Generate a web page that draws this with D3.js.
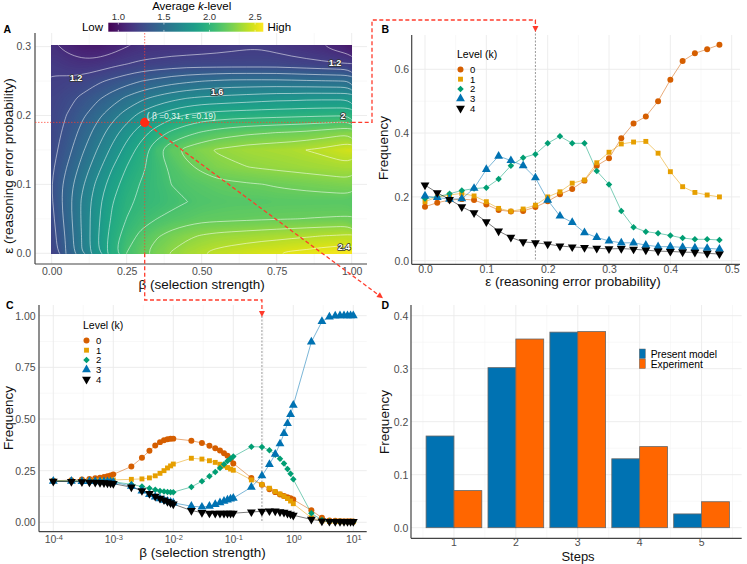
<!DOCTYPE html>
<html>
<head>
<meta charset="utf-8">
<script src="https://cdn.jsdelivr.net/npm/d3@7"></script>
<style>
  body { margin: 0; background: #fff; }
  svg { display: block; font-family: "Liberation Sans", Arial, Helvetica, sans-serif; }
</style>
</head>
<body>
<svg id="fig" width="747" height="564"></svg>
<script>
// ---------------- data ----------------
// panel A: average k-level on a (beta, eps) grid, rows = eps (bottom to top)
let heatBeta = [0, 0.05, 0.1, 0.15, 0.2, 0.25, 0.3, 0.35, 0.4, 0.45, 0.5, 0.55, 0.6, 0.65, 0.7, 0.75, 0.8, 0.85, 0.9, 0.95, 1];
let heatEps = [0, 0.025, 0.05, 0.075, 0.1, 0.125, 0.15, 0.175, 0.2, 0.225, 0.25, 0.275, 0.3];
let heatK = [
  [1.23,1.41,1.598,1.78,1.96,2.102,2.18,2.25,2.31,2.36,2.398,2.43,2.45,2.47,2.49,2.498,2.52,2.53,2.55,2.56,2.58],
  [1.25,1.42,1.602,1.78,1.94,2.05,2.13,2.19,2.24,2.28,2.31,2.33,2.34,2.35,2.36,2.37,2.38,2.39,2.402,2.41,2.42],
  [1.27,1.44,1.61,1.77,1.91,2.002,2.06,2.10,2.13,2.15,2.17,2.175,2.18,2.185,2.19,2.195,2.198,2.202,2.205,2.208,2.21],
  [1.29,1.45,1.61,1.76,1.89,1.98,2.02,2.04,2.07,2.098,2.12,2.13,2.14,2.14,2.14,2.15,2.15,2.15,2.15,2.15,2.15],
  [1.298,1.44,1.58,1.72,1.85,1.95,2.01,2.05,2.102,2.13,2.15,2.17,2.18,2.19,2.198,2.21,2.22,2.23,2.24,2.25,2.26],
  [1.28,1.40,1.53,1.66,1.79,1.902,1.98,2.05,2.12,2.18,2.22,2.26,2.28,2.298,2.31,2.32,2.33,2.34,2.35,2.36,2.37],
  [1.26,1.36,1.48,1.598,1.72,1.84,1.95,2.08,2.17,2.23,2.27,2.31,2.33,2.35,2.36,2.37,2.38,2.402,2.42,2.45,2.48],
  [1.25,1.33,1.43,1.54,1.65,1.76,1.86,1.95,2.02,2.07,2.11,2.14,2.16,2.18,2.19,2.202,2.21,2.22,2.24,2.26,2.28],
  [1.24,1.302,1.38,1.47,1.56,1.65,1.74,1.81,1.87,1.91,1.94,1.95,1.96,1.965,1.97,1.975,1.98,1.985,1.99,1.993,1.996],
  [1.23,1.27,1.32,1.38,1.45,1.52,1.58,1.63,1.67,1.70,1.72,1.73,1.74,1.75,1.76,1.77,1.77,1.78,1.78,1.78,1.78],
  [1.21,1.22,1.24,1.28,1.32,1.36,1.40,1.43,1.46,1.48,1.498,1.51,1.52,1.52,1.52,1.52,1.515,1.51,1.505,1.502,1.495],
  [1.18,1.15,1.13,1.14,1.17,1.198,1.22,1.23,1.24,1.25,1.25,1.25,1.25,1.25,1.25,1.25,1.24,1.23,1.22,1.21,1.202],
  [1.13,1.07,1.03,1.02,1.05,1.098,1.13,1.14,1.15,1.15,1.16,1.17,1.18,1.19,1.19,1.17,1.15,1.13,1.11,1.06,1.01]
];
let kRange = [0.89, 2.59];
let kBarTicks = [1.0, 1.5, 2.0, 2.5];
let contourLevels = [1.1, 1.2, 1.3, 1.4, 1.5, 1.6, 1.7, 1.8, 1.9, 2.0, 2.1, 2.2, 2.3, 2.4, 2.5];
let contourLabels = [
  { text: "1.2", beta: 0.081, eps: 0.255 },
  { text: "1.2", beta: 0.944, eps: 0.276 },
  { text: "1.6", beta: 0.551, eps: 0.234 },
  { text: "2", beta: 0.971, eps: 0.2 },
  { text: "2.4", beta: 0.974, eps: 0.009 }
];
let pickBeta = 0.31;
let pickEps = 0.19;

// levels shared by B and C
let levelNames = ["0", "1", "2", "3", "4"];
let levelColours = ["#D55E00", "#E69F00", "#009E73", "#0072B2", "#000000"];

// panel B: frequency vs eps
let epsB = [0, 0.02, 0.04, 0.06, 0.08, 0.1, 0.12, 0.14, 0.16, 0.18, 0.2, 0.22, 0.24, 0.26, 0.28, 0.3, 0.32, 0.34, 0.36, 0.38, 0.4, 0.42, 0.44, 0.46, 0.48];
let freqB0 = [0.169, 0.182, 0.19, 0.193, 0.19, 0.176, 0.159, 0.154, 0.156, 0.168, 0.186, 0.208, 0.225, 0.251, 0.298, 0.321, 0.384, 0.43, 0.452, 0.5, 0.567, 0.626, 0.65, 0.663, 0.677];
let freqB1 = [0.185, 0.2, 0.206, 0.211, 0.203, 0.185, 0.164, 0.155, 0.162, 0.174, 0.2, 0.216, 0.243, 0.253, 0.307, 0.34, 0.366, 0.372, 0.374, 0.337, 0.279, 0.232, 0.214, 0.206, 0.2];
let freqB2 = [0.195, 0.2, 0.21, 0.22, 0.226, 0.229, 0.256, 0.298, 0.323, 0.334, 0.368, 0.39, 0.368, 0.368, 0.281, 0.239, 0.156, 0.105, 0.091, 0.086, 0.079, 0.071, 0.067, 0.067, 0.065];
let freqB3 = [0.203, 0.198, 0.193, 0.194, 0.227, 0.286, 0.328, 0.314, 0.298, 0.26, 0.19, 0.14, 0.12, 0.088, 0.073, 0.062, 0.056, 0.056, 0.049, 0.044, 0.044, 0.042, 0.04, 0.039, 0.036];
let freqB4 = [0.237, 0.213, 0.192, 0.169, 0.15, 0.122, 0.093, 0.073, 0.059, 0.056, 0.052, 0.046, 0.043, 0.041, 0.039, 0.037, 0.038, 0.036, 0.033, 0.03, 0.029, 0.027, 0.026, 0.023, 0.021];
let pickEpsB = 0.18;

// panel C: frequency vs beta (log axis)
let betaC = [0.0001, 0.0002, 0.0003, 0.0004, 0.0005, 0.0006, 0.0007, 0.0008, 0.0009,
  0.001, 0.002, 0.003, 0.004, 0.005, 0.006, 0.007, 0.008, 0.009,
  0.01, 0.02, 0.03, 0.04, 0.05, 0.06, 0.07, 0.08, 0.09,
  0.1, 0.2, 0.3, 0.4, 0.5, 0.6, 0.7, 0.8, 0.9,
  1, 2, 3, 4, 5, 6, 7, 8, 9, 10];
let freqC0 = [0.201, 0.204, 0.207, 0.21, 0.213, 0.216, 0.219, 0.223, 0.227,
  0.232, 0.27, 0.312, 0.346, 0.372, 0.388, 0.397, 0.402, 0.404,
  0.405, 0.395, 0.384, 0.371, 0.358, 0.347, 0.334, 0.322, 0.305,
  0.285, 0.215, 0.182, 0.16, 0.146, 0.135, 0.127, 0.121, 0.116,
  0.11, 0.058, 0.022, 0.009, 0.007, 0.006, 0.005, 0.005, 0.005, 0.004];
let freqC1 = [0.2, 0.2, 0.201, 0.201, 0.202, 0.202, 0.203, 0.203, 0.204,
  0.205, 0.208, 0.21, 0.215, 0.225, 0.237, 0.25, 0.263, 0.273,
  0.282, 0.31, 0.306, 0.298, 0.29, 0.281, 0.273, 0.265, 0.258,
  0.252, 0.205, 0.183, 0.165, 0.149, 0.137, 0.126, 0.115, 0.103,
  0.09, 0.022, 0.007, 0.004, 0.004, 0.003, 0.003, 0.003, 0.003, 0.003];
let freqC2 = [0.2, 0.2, 0.2, 0.199, 0.199, 0.199, 0.198, 0.198, 0.197,
  0.196, 0.184, 0.173, 0.165, 0.157, 0.152, 0.149, 0.147, 0.146,
  0.146, 0.171, 0.199, 0.223, 0.244, 0.263, 0.281, 0.297, 0.309,
  0.318, 0.366, 0.365, 0.349, 0.327, 0.308, 0.285, 0.258, 0.235,
  0.208, 0.044, 0.011, 0.005, 0.004, 0.004, 0.003, 0.003, 0.003, 0.003];
let freqC3 = [0.199, 0.199, 0.198, 0.198, 0.198, 0.197, 0.197, 0.197, 0.196,
  0.195, 0.175, 0.152, 0.135, 0.123, 0.114, 0.107, 0.102, 0.098,
  0.094, 0.078, 0.074, 0.078, 0.087, 0.095, 0.102, 0.108, 0.113,
  0.117, 0.17, 0.225, 0.28, 0.33, 0.38, 0.43, 0.478, 0.522,
  0.567, 0.873, 0.972, 0.994, 0.999, 1, 1, 1, 1, 1];
let freqC4 = [0.198, 0.197, 0.196, 0.194, 0.193, 0.192, 0.191, 0.19, 0.189,
  0.187, 0.17, 0.153, 0.139, 0.126, 0.116, 0.108, 0.1, 0.094,
  0.088, 0.057, 0.047, 0.044, 0.043, 0.043, 0.043, 0.043, 0.043,
  0.044, 0.05, 0.053, 0.055, 0.054, 0.051, 0.048, 0.043, 0.039,
  0.034, 0.014, 0.006, 0.004, 0.003, 0.003, 0.003, 0.003, 0.003, 0.003];
let pickBetaC = 0.3;
let betaTicksC = [0.0001, 0.001, 0.01, 0.1, 1, 10];

// panel D: steps distribution
let steps = [1, 2, 3, 4, 5];
let modelFreq = [0.173, 0.302, 0.369, 0.130, 0.026];
let exptFreq = [0.070, 0.356, 0.370, 0.153, 0.049];
let barNames = ["Present model", "Experiment"];
let barColours = ["#0072B2", "#FF6600"];

// ---------------- common ----------------
let svg = d3.select("#fig");
let defs = svg.append("defs");
let tickFont = 10.5;
let titleFont = 13.5;
let tickGrey = "#4d4d4d";
let axisGrey = "#444";
let red = "#ff3b2b";

let symbolTypes = [d3.symbolCircle, d3.symbolSquare, d3.symbolSquare, d3.symbolTriangle, d3.symbolTriangle];
let symbolSizes = [28, 24, 21, 34, 34];
let symbolRot = [0, 0, 45, 0, 180];

function drawGrid(g, box, xMajor, xMinor, yMajor, yMinor) {
  let gg = g.append("g");
  xMinor.forEach(x => gg.append("line").attr("x1", x).attr("x2", x).attr("y1", box.y0).attr("y2", box.y1)
    .attr("stroke", "#f4f4f4").attr("stroke-width", 0.6));
  yMinor.forEach(y => gg.append("line").attr("x1", box.x0).attr("x2", box.x1).attr("y1", y).attr("y2", y)
    .attr("stroke", "#f4f4f4").attr("stroke-width", 0.6));
  xMajor.forEach(x => gg.append("line").attr("x1", x).attr("x2", x).attr("y1", box.y0).attr("y2", box.y1)
    .attr("stroke", "#ebebeb").attr("stroke-width", 0.9));
  yMajor.forEach(y => gg.append("line").attr("x1", box.x0).attr("x2", box.x1).attr("y1", y).attr("y2", y)
    .attr("stroke", "#ebebeb").attr("stroke-width", 0.9));
}

function axisLines(g, box) {
  g.append("line").attr("x1", box.x0).attr("x2", box.x0).attr("y1", box.y0).attr("y2", box.y1)
    .attr("stroke", axisGrey).attr("stroke-width", 1.2);
  g.append("line").attr("x1", box.x0).attr("x2", box.x1).attr("y1", box.y1).attr("y2", box.y1)
    .attr("stroke", axisGrey).attr("stroke-width", 1.2);
}

function bottomAxis(g, scale, y, pad, values, format) {
  let ax = d3.axisBottom(scale).tickSize(0).tickPadding(pad).tickValues(values);
  if (format) ax.tickFormat(format);
  let sel = g.append("g").attr("transform", "translate(0," + y + ")").call(ax);
  sel.select(".domain").remove();
  sel.attr("font-family", null).attr("font-size", tickFont);
  sel.selectAll("text").attr("fill", tickGrey);
  return sel;
}

function leftAxis(g, scale, x, pad, values, format) {
  let ax = d3.axisLeft(scale).tickSize(0).tickPadding(pad).tickValues(values);
  if (format) ax.tickFormat(format);
  let sel = g.append("g").attr("transform", "translate(" + x + ",0)").call(ax);
  sel.select(".domain").remove();
  sel.attr("font-family", null).attr("font-size", tickFont);
  sel.selectAll("text").attr("fill", tickGrey);
  return sel;
}

function title(g, text, x, y, rotate) {
  let t = g.append("text").attr("font-size", titleFont).attr("text-anchor", "middle").attr("fill", "#111");
  if (rotate) t.attr("transform", "translate(" + x + "," + y + ") rotate(-90)");
  else t.attr("x", x).attr("y", y);
  t.text(text);
  return t;
}

function panelLetter(text, x, y) {
  svg.append("text").attr("x", x).attr("y", y).attr("font-size", 10.5).attr("font-weight", "bold").text(text);
}

function arrowDown(g, x, yTip) {
  g.append("path").attr("d", `M${x - 3},${yTip - 6}L${x + 3},${yTip - 6}L${x},${yTip}Z`).attr("fill", red);
}

// ---------------- panel A ----------------
function drawPanelA() {
  let g = svg.append("g");
  let xA = d3.scaleLinear().domain([0, 1]).range([51.7, 351.7]);
  let yA = d3.scaleLinear().domain([0, 0.3]).range([253.3, 46.6]);
  let kColour = d3.scaleSequential(d3.interpolateViridis).domain(kRange);
  let box = { x0: 35, x1: 367, y0: 33, y1: 264 };

  drawGrid(g, box, [0, 0.25, 0.5, 0.75, 1].map(xA), [0.125, 0.375, 0.625, 0.875].map(xA),
    [0, 0.1, 0.2, 0.3].map(yA), [0.05, 0.15, 0.25].map(yA));

  // grid samples sit at cell centres of d3.contours' coordinate space
  let nx = heatBeta.length, ny = heatEps.length;
  let dB = heatBeta[1] - heatBeta[0], dE = heatEps[1] - heatEps[0];
  let px = cx => xA(heatBeta[0] + (cx - 0.5) * dB);
  let py = cy => yA(heatEps[0] + (cy - 0.5) * dE);
  let values = heatK.flat();
  let smooth = d3.line().curve(d3.curveBasisClosed);
  // one smoothed path string for a contour MultiPolygon (holes kept by winding)
  let contourPath = c => c.coordinates.map(poly => poly.map(ring =>
    smooth(ring.slice(0, -1).map(p => [px(p[0]), py(p[1])]))).join("")).join("");

  defs.append("clipPath").attr("id", "clipA").append("rect")
    .attr("x", xA(0) - 0.5).attr("y", yA(0.3) - 1).attr("width", xA(1) - xA(0) + 0.5).attr("height", yA(0) - yA(0.3) + 1.5);

  let fillLevels = d3.range(0.85, 2.62, 0.01);
  let fills = d3.contours().size([nx, ny]).thresholds(fillLevels)(values);
  let heat = g.append("g").attr("clip-path", "url(#clipA)");
  heat.selectAll("path.fill").data(fills).join("path").attr("class", "fill")
    .attr("d", contourPath).attr("fill", d => kColour(d.value + 0.005));

  let lines = d3.contours().size([nx, ny]).thresholds(contourLevels)(values);
  heat.selectAll("path.iso").data(lines).join("path").attr("class", "iso")
    .attr("d", contourPath).attr("fill", "none")
    .attr("stroke", "#ffffff").attr("stroke-opacity", 0.7).attr("stroke-width", 0.75);

  contourLabels.forEach(l => {
    g.append("text").attr("x", xA(l.beta)).attr("y", yA(l.eps)).attr("dy", "0.35em")
      .attr("text-anchor", "middle").attr("font-size", 9).attr("font-weight", "bold")
      .attr("fill", "#fff").attr("stroke", "#333").attr("stroke-width", 1.6)
      .attr("paint-order", "stroke").attr("stroke-linejoin", "round").text(l.text);
  });

  axisLines(g, box);
  bottomAxis(g, xA, box.y1, 3.3, [0, 0.25, 0.5, 0.75, 1], d3.format(".2f"));
  leftAxis(g, yA, box.x0, 4, [0, 0.1, 0.2, 0.3], d3.format(".1f"));
  title(g, "β (selection strength)", 201.7, 288.5);
  title(g, "ε (reasoning error probability)", 13, 166, true);

  // colour bar
  let cb = d3.scaleLinear().domain(kRange).range([108.3, 263.3]);
  let grad = defs.append("linearGradient").attr("id", "kGrad");
  d3.range(0, 1.0001, 0.05).forEach(t => grad.append("stop").attr("offset", t).attr("stop-color", d3.interpolateViridis(t)));
  g.append("rect").attr("x", cb.range()[0]).attr("y", 22.7).attr("width", cb.range()[1] - cb.range()[0]).attr("height", 9)
    .attr("fill", "url(#kGrad)");
  kBarTicks.forEach(v => {
    g.append("line").attr("x1", cb(v)).attr("x2", cb(v)).attr("y1", 22.7).attr("y2", 24.5).attr("stroke", "#fff").attr("stroke-width", 0.6);
    g.append("line").attr("x1", cb(v)).attr("x2", cb(v)).attr("y1", 29.9).attr("y2", 31.7).attr("stroke", "#fff").attr("stroke-width", 0.6);
    g.append("text").attr("x", cb(v)).attr("y", 20).attr("text-anchor", "middle").attr("font-size", 9.5)
      .attr("fill", "#333").text(d3.format(".1f")(v));
  });
  let ct = g.append("text").attr("x", 191.7).attr("y", 9.5).attr("text-anchor", "middle").attr("font-size", 11.5);
  ct.append("tspan").text("Average ");
  ct.append("tspan").attr("font-style", "italic").text("k");
  ct.append("tspan").text("-level");
  g.append("text").attr("x", 103).attr("y", 31.3).attr("text-anchor", "end").attr("font-size", 11.5).text("Low");
  g.append("text").attr("x", 267.5).attr("y", 31.3).attr("font-size", 11.5).text("High");

  // crosshair and the chosen parameter point
  let px0 = xA(pickBeta), py0 = yA(pickEps);
  g.append("line").attr("x1", px0).attr("x2", px0).attr("y1", box.y0).attr("y2", yA(0))
    .attr("stroke", red).attr("stroke-width", 0.7).attr("stroke-dasharray", "1.5,1.5");
  g.append("line").attr("x1", box.x0).attr("x2", xA(1)).attr("y1", py0).attr("y2", py0)
    .attr("stroke", red).attr("stroke-width", 0.7).attr("stroke-dasharray", "1.5,1.5");
  g.append("circle").attr("cx", px0).attr("cy", py0).attr("r", 4.6).attr("fill", "#ff2a12");
  g.append("text").attr("x", px0 + 2).attr("y", py0 - 3.2).attr("font-size", 8.5).attr("fill", "#fff")
    .attr("fill-opacity", 0.9).text("( β =0.31, ε =0.19)");

  panelLetter("A", 3.5, 32.7);
  return { xA, yA, box };
}

// ---------------- panels B and C ----------------
function drawLinePanel(cfg) {
  let g = svg.append("g");
  let { x, y, box } = cfg;
  drawGrid(g, box, cfg.xMajor.map(x), cfg.xMinor.map(x), cfg.yMajor.map(y), cfg.yMinor.map(y));

  // reference line at the chosen parameter
  g.append("line").attr("x1", x(cfg.refX)).attr("x2", x(cfg.refX)).attr("y1", cfg.refTop).attr("y2", y(0))
    .attr("stroke", "#999").attr("stroke-width", 1).attr("stroke-dasharray", "2,1.5");

  let line = d3.line().x((d, i) => x(cfg.xs[i])).y(d => y(d));
  cfg.series.forEach((s, k) => {
    g.append("path").attr("d", line(s)).attr("fill", "none").attr("stroke", levelColours[k])
      .attr("stroke-width", 0.8).attr("stroke-opacity", 0.65);
  });
  cfg.series.forEach((s, k) => {
    let sym = d3.symbol().type(symbolTypes[k]).size(symbolSizes[k]);
    g.append("g").selectAll("path").data(s).join("path").attr("d", sym)
      .attr("transform", (d, i) => `translate(${x(cfg.xs[i])},${y(d)}) rotate(${symbolRot[k]})`)
      .attr("fill", levelColours[k]);
  });

  axisLines(g, box);

  // legend
  let lg = g.append("g");
  lg.append("text").attr("x", cfg.legend.x).attr("y", cfg.legend.y).attr("font-size", 10.5).text("Level (k)");
  levelNames.forEach((n, k) => {
    let cy = cfg.legend.y + 11.5 + k * 9.7;
    let sym = d3.symbol().type(symbolTypes[k]).size(symbolSizes[k]);
    lg.append("path").attr("d", sym()).attr("transform", `translate(${cfg.legend.x + 3.5},${cy}) rotate(${symbolRot[k]})`)
      .attr("fill", levelColours[k]);
    lg.append("text").attr("x", cfg.legend.x + 13).attr("y", cy).attr("dy", "0.36em").attr("font-size", 9.5).text(n);
  });
  return g;
}

function drawPanelB() {
  let x = d3.scaleLinear().domain([0, 0.5]).range([425, 731.7]);
  let y = d3.scaleLinear().domain([0, 0.6]).range([260.7, 69.3]);
  let box = { x0: 411.7, x1: 740, y0: 35, y1: 264.3 };
  let g = drawLinePanel({
    x, y, box, xs: epsB, series: [freqB0, freqB1, freqB2, freqB3, freqB4],
    xMajor: [0, 0.1, 0.2, 0.3, 0.4, 0.5], xMinor: [0.05, 0.15, 0.25, 0.35, 0.45],
    yMajor: [0, 0.2, 0.4, 0.6], yMinor: [0.1, 0.3, 0.5],
    refX: pickEpsB, refTop: 30, legend: { x: 457, y: 58 }
  });
  bottomAxis(g, x, box.y1, 0.8, [0, 0.1, 0.2, 0.3, 0.4, 0.5], d3.format(".1f"));
  leftAxis(g, y, box.x0, 2.5, [0, 0.2, 0.4, 0.6], d3.format(".1f"));
  title(g, "ε (reasoning error probability)", 573, 285.5);
  title(g, "Frequency", 388, 148, true);
  panelLetter("B", 381.5, 32.7);
  return { x, y, box };
}

function drawPanelC() {
  let x = d3.scaleLog().domain([1e-4, 10]).range([53.3, 353.3]);
  let y = d3.scaleLinear().domain([0, 1]).range([522.3, 315.7]);
  let box = { x0: 39, x1: 366.7, y0: 305, y1: 531.7 };
  let g = drawLinePanel({
    x, y, box, xs: betaC, series: [freqC0, freqC1, freqC2, freqC3, freqC4],
    xMajor: betaTicksC, xMinor: [0.000316, 0.00316, 0.0316, 0.316, 3.16],
    yMajor: [0, 0.25, 0.5, 0.75, 1], yMinor: [0.125, 0.375, 0.625, 0.875],
    refX: pickBetaC, refTop: 316, legend: { x: 83, y: 329 }
  });
  let ax = bottomAxis(g, x, box.y1, 4, betaTicksC, () => "");
  ax.selectAll(".tick text").each(function (d) {
    let t = d3.select(this);
    t.append("tspan").text("10");
    t.append("tspan").attr("dy", "-0.45em").attr("font-size", 7.5).text(Math.round(Math.log10(d)));
  });
  leftAxis(g, y, box.x0, 3.3, [0, 0.25, 0.5, 0.75, 1], d3.format(".2f"));
  title(g, "β (selection strength)", 202.5, 557);
  title(g, "Frequency", 12.5, 418, true);
  panelLetter("C", 6, 309);
  return { x, y, box };
}

// ---------------- panel D ----------------
function drawPanelD() {
  let g = svg.append("g");
  let x = d3.scaleBand().domain(steps).range([423, 732.5]).paddingInner(0.1).paddingOuter(0.05);
  let xs = d3.scaleBand().domain(barNames).range([0, x.bandwidth()]);
  let y = d3.scaleLinear().domain([0, 0.4]).range([527.7, 315.7]);
  let box = { x0: 411, x1: 741.7, y0: 305, y1: 538.3 };
  let centres = steps.map(s => x(s) + x.bandwidth() / 2);
  let halfSteps = [423, ...centres.map(c => c + x.step() / 2)];
  drawGrid(g, box, centres, halfSteps, [0, 0.1, 0.2, 0.3, 0.4].map(y), [0.05, 0.15, 0.25, 0.35].map(y));

  let rows = steps.map((s, i) => ({ step: s, vals: [modelFreq[i], exptFreq[i]] }));
  let grp = g.selectAll("g.step").data(rows).join("g").attr("class", "step")
    .attr("transform", d => `translate(${x(d.step)},0)`);
  grp.selectAll("rect").data(d => d.vals.map((v, j) => ({ name: barNames[j], v, c: barColours[j] })))
    .join("rect").attr("x", d => xs(d.name)).attr("width", xs.bandwidth())
    .attr("y", d => y(d.v)).attr("height", d => y(0) - y(d.v))
    .attr("fill", d => d.c).attr("stroke", "#666").attr("stroke-width", 0.8);

  axisLines(g, box);
  bottomAxis(g, x, box.y1, 0.6, steps);
  leftAxis(g, y, box.x0, 2.7, [0, 0.1, 0.2, 0.3, 0.4], d3.format(".1f"));
  title(g, "Steps", 578, 561).attr("font-size", 13);
  title(g, "Frequency", 389, 422, true);

  barNames.forEach((n, j) => {
    g.append("rect").attr("x", 639.3).attr("y", 349 + j * 10).attr("width", 6).attr("height", 9.5)
      .attr("fill", barColours[j]).attr("stroke", "#666").attr("stroke-width", 0.5);
    g.append("text").attr("x", 650.7).attr("y", 353.8 + j * 10).attr("dy", "0.36em").attr("font-size", 10.3).text(n);
  });
  panelLetter("D", 381.5, 309.3);
}

// ---------------- connectors ----------------
function drawConnectors(A, B, C) {
  let g = svg.append("g").attr("fill", "none").attr("stroke", red).attr("stroke-width", 1.3).attr("stroke-dasharray", "4,2.5");
  let bx = A.xA(pickBeta), ey = A.yA(pickEps);
  // to panel B
  let xB = B.x(pickEpsB);
  g.append("path").attr("d", `M${A.xA(1)},${ey}H372V20H${xB}V26`);
  // to panel C
  let xC = C.x(pickBetaC);
  g.append("path").attr("d", `M${bx},${A.yA(0)}V300H${xC}V311`);
  // to panel D
  g.append("path").attr("d", `M${bx + 4},${ey + 3}L380,296`);
  let ag = svg.append("g");
  arrowDown(ag, xB, 32);
  arrowDown(ag, xC, 317);
  let ang = Math.atan2(296 - ey, 380 - bx) * 180 / Math.PI;
  ag.append("path").attr("d", "M0,0L-6,-3L-6,3Z").attr("fill", red)
    .attr("transform", `translate(383,298.2) rotate(${ang})`);
}

let A = drawPanelA();
let B = drawPanelB();
let C = drawPanelC();
drawPanelD();
drawConnectors(A, B, C);
</script>
</body>
</html>
